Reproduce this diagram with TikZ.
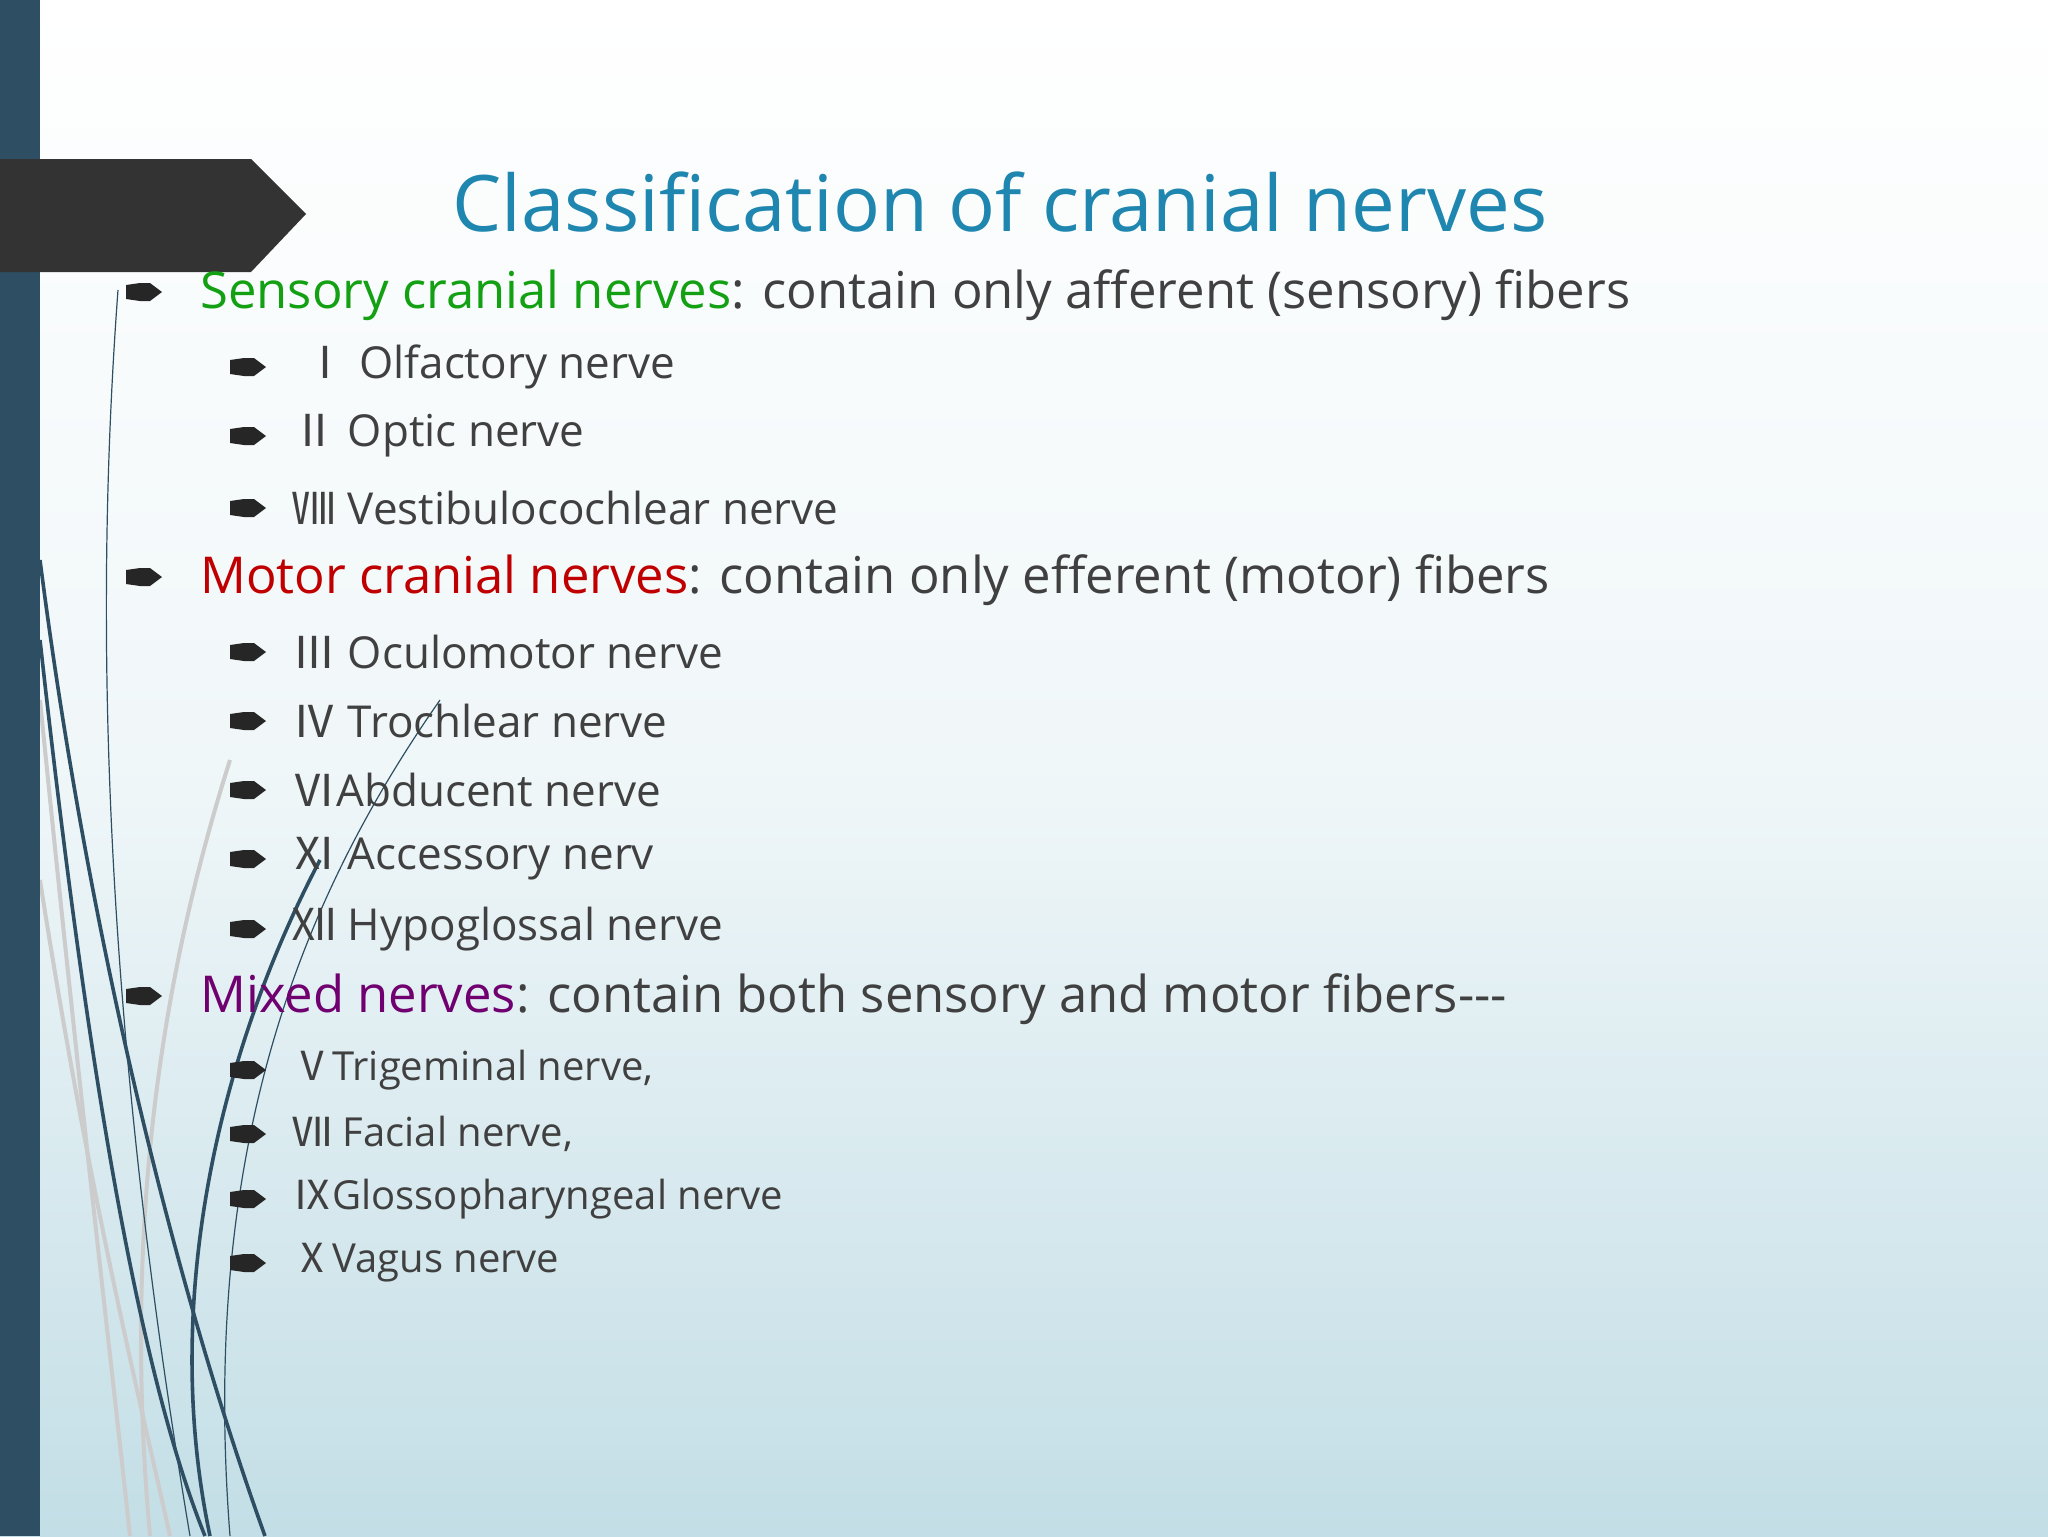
\documentclass[tikz,border=0pt]{standalone}
\usepackage{fontspec}
\setmainfont{Open Sans}
\newfontfamily\cjk{Noto Sans CJK SC}
\definecolor{bar}{HTML}{2E4F63}
\definecolor{ttl}{HTML}{1F86B0}
\definecolor{txt}{HTML}{404040}
\definecolor{sgreen}{HTML}{13A013}
\definecolor{mred}{HTML}{C00000}
\definecolor{mpur}{HTML}{700070}
\definecolor{bgb}{HTML}{C3DEE6}
\tikzset{
 head/.style={anchor=west,inner sep=0pt,font=\fontsize{25.4pt}{30pt}\selectfont,text=txt},
 sub/.style={anchor=west,inner sep=0pt,font=\fontsize{22pt}{26pt}\selectfont,text=txt},
 curve/.style={bar,line width=1.8pt},
 thin/.style={bar,line width=0.6pt},
 pale/.style={gray!40,line width=2pt},
 bullet/.pic={\fill[black!85] (0,-7) -- (14,-9) -- (24,-9) -- (36,0) -- (24,9) -- (14,9) -- (0,7) -- cycle;}
}
\newcommand{\rn}[1]{{\cjk #1}}
\begin{document}
\begin{tikzpicture}[x=0.5pt,y=-0.5pt]
\useasboundingbox (0,0) rectangle (2048,1536);
\shade[top color=white,bottom color=bgb,middle color=white!75!bgb] (0,0) rectangle (2048,1536);
% curves
\draw[pale] (40,880) .. controls (90,1200) and (140,1400) .. (170,1536);
\draw[pale] (40,700) .. controls (80,1100) and (110,1350) .. (130,1536);
\draw[pale] (230,760) .. controls (170,950) and (120,1200) .. (150,1536);
\draw[curve] (40,560) .. controls (90,950) and (180,1300) .. (265,1536);
\draw[curve] (40,640) .. controls (80,1000) and (130,1350) .. (205,1536);
\draw[curve] (320,860) .. controls (220,1050) and (160,1300) .. (210,1536);
\draw[thin] (118,290) .. controls (95,600) and (100,1000) .. (190,1536);
\draw[thin] (440,700) .. controls (300,900) and (200,1150) .. (230,1536);
% left bar and arrow
\fill[bar] (0,0) rectangle (40,1536);
\fill[black!80] (0,159) -- (251,159) -- (306,214) -- (251,272) -- (0,272) -- cycle;
% title
\node[inner sep=0pt,text=ttl,font=\fontsize{39pt}{46pt}\selectfont] (title) at (1000,202) {Classification of cranial nerves};
% headings
\pic at (126,292) {bullet};
\node[head] (h1) at (200,295) {\textcolor{sgreen}{Sensory cranial nerves}: contain only afferent (sensory) fibers};
\pic at (126,577) {bullet};
\node[head] (h2) at (200,580) {\textcolor{mred}{Motor cranial nerves}: contain only efferent (motor) fibers};
\pic at (126,996) {bullet};
\node[head] (h3) at (200,999) {\textcolor{mpur}{Mixed nerves}: contain both sensory and motor fibers{-}{-}{-}};
% sub items
\foreach \y/\t [count=\i] in {
367/{\ \rn{Ⅰ} Olfactory nerve},
436/{\rn{Ⅱ} Optic nerve},
508/{\rn{Ⅷ} Vestibulocochlear nerve},
652/{\rn{Ⅲ} Oculomotor nerve},
721/{\rn{Ⅳ} Trochlear nerve},
790/{\rn{Ⅵ}Abducent nerve},
859/{\rn{Ⅺ} Accessory nerv},
929/{\rn{Ⅻ} Hypoglossal nerve}}{
\pic at (230,\y) {bullet};
\node[sub] (s\i) at (292,\y) {\t};
}
\foreach \y/\t [count=\i] in {
1070/{\rn{Ⅴ}Trigeminal nerve,},
1134/{\rn{Ⅶ} Facial nerve,},
1199/{\rn{Ⅸ}Glossopharyngeal nerve},
1263/{\rn{Ⅹ}Vagus nerve}}{
\pic at (230,\y) {bullet};
\node[sub,font=\fontsize{20pt}{24pt}\selectfont] (m\i) at (292,\y) {\t};
}
\end{tikzpicture}
\end{document}
